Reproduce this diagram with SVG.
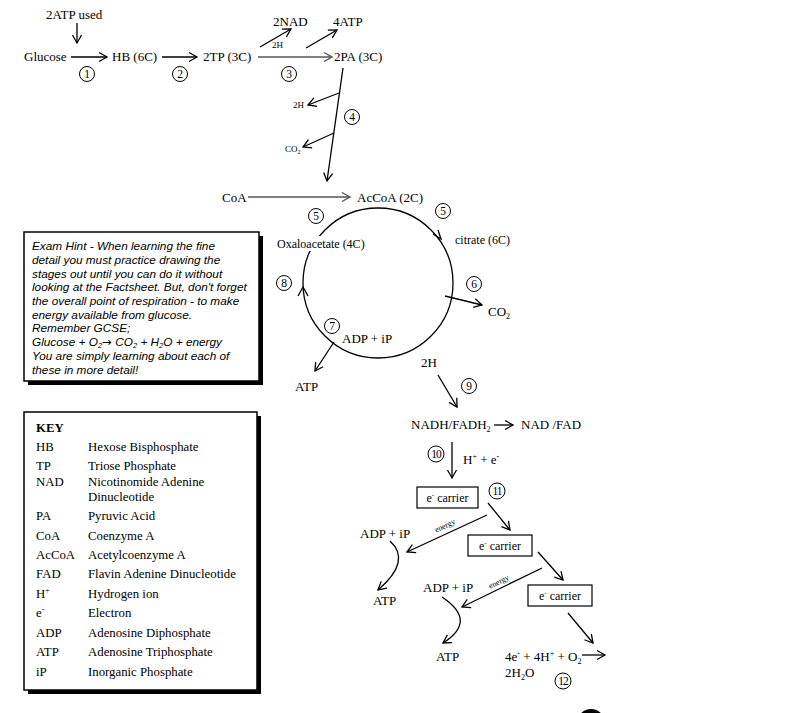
<svg xmlns="http://www.w3.org/2000/svg" width="794" height="713" viewBox="0 0 794 713">
<style>
text{font-family:"Liberation Serif","Times New Roman",serif;fill:#000}
.t{font-size:13px}
.s{font-size:12px}
.xs{font-size:9px}
.en{font-size:8px}
.k{font-size:12.8px}
.h{font-family:"Liberation Sans",Arial,sans-serif;font-style:italic;font-size:11.8px}
.n{font-size:11.5px;text-anchor:middle}
.nc{fill:none;stroke:#000;stroke-width:1}
.ln{fill:none;stroke:#000;stroke-width:1.3}
.gl{fill:none;stroke:#555;stroke-width:1.6}
.a{marker-end:url(#ah)}
.ag{marker-end:url(#ahg)}
</style>
<defs>
<marker id="ah" markerWidth="12" markerHeight="12" refX="10" refY="6" orient="auto" markerUnits="userSpaceOnUse"><path d="M2,1.5 L10,6 L2,10.5" fill="none" stroke="#000" stroke-width="1.3"/></marker>
<marker id="ahg" markerWidth="12" markerHeight="12" refX="10" refY="6" orient="auto" markerUnits="userSpaceOnUse"><path d="M2,1.5 L10,6 L2,10.5" fill="none" stroke="#555" stroke-width="1.4"/></marker>
</defs>
<rect width="794" height="713" fill="#fff"/>

<g id="connectors">
<line class="ln a" x1="77" y1="23" x2="77" y2="43"/>
<line class="ln a" x1="71" y1="57" x2="107" y2="57"/>
<line class="ln a" x1="162" y1="57" x2="197" y2="57"/>
<line class="gl ag" x1="258" y1="57" x2="332" y2="57"/>
<line class="ln a" x1="260" y1="47" x2="291" y2="29"/>
<line class="ln a" x1="306" y1="48" x2="337" y2="30"/>
<line class="ln a" x1="343" y1="68" x2="327" y2="181"/>
<line class="ln a" x1="339" y1="93" x2="308" y2="105"/>
<line class="ln a" x1="334" y1="133" x2="303" y2="147"/>
<line class="gl ag" x1="248" y1="197" x2="350" y2="197"/>
<circle cx="378" cy="283" r="75" fill="none" stroke="#000" stroke-width="1.3"/>
<path d="M433,234 L441,239 L438,230" fill="none" stroke="#000" stroke-width="1.3"/>
<path d="M298,296 L303,287 L308,296" fill="none" stroke="#000" stroke-width="1.3"/>
<line class="ln a" x1="445" y1="296" x2="482" y2="305"/>
<line class="ln a" x1="334" y1="342" x2="315" y2="371"/>
<line class="ln a" x1="438" y1="375" x2="457" y2="407"/>
<line class="ln a" x1="494" y1="425" x2="513" y2="425"/>
<line class="ln a" x1="452" y1="442" x2="452" y2="478"/>
<line class="ln a" x1="488" y1="503" x2="510" y2="530"/>
<line class="ln a" x1="538" y1="552" x2="563" y2="580"/>
<line class="ln a" x1="568" y1="613" x2="593" y2="643"/>
<line class="ln a" x1="487" y1="515" x2="407" y2="552"/>
<line class="ln a" x1="542" y1="568" x2="462" y2="607"/>
<path class="ln a" d="M390,541 Q412,561 378,590"/>
<path class="ln a" d="M442,597 Q478,621 443,643"/>
<line class="ln a" x1="582" y1="655" x2="605" y2="655"/>
</g>

<g id="glycolysis">
<text class="t" x="46" y="19">2ATP used</text>
<text class="t" x="24" y="61">Glucose</text>
<text class="t" x="112" y="61">HB (6C)</text>
<text class="t" x="203" y="61">2TP (3C)</text>
<text class="t" x="334" y="61">2PA (3C)</text>
<text class="t" x="273" y="26">2NAD</text>
<text class="t" x="333" y="26">4ATP</text>
<text class="xs" x="272" y="48">2H</text>
</g>

<g id="link">
<text class="xs" x="293" y="108">2H</text>
<text class="xs" x="285" y="152">CO<tspan font-size="6" dy="2">2</tspan></text>
<text class="t" x="222" y="202">CoA</text>
<text class="t" x="357" y="202">AcCoA (2C)</text>
</g>

<g id="krebs">
<rect x="276" y="236" width="96" height="15" fill="#fff"/>
<text class="s" x="277" y="248">Oxaloacetate (4C)</text>
<text class="s" x="455" y="244">citrate (6C)</text>
<text class="t" x="488" y="316">CO<tspan font-size="8" dy="3">2</tspan></text>
<rect x="340" y="331" width="54" height="15" fill="#fff"/>
<text class="t" x="342" y="343">ADP + iP</text>
<text class="t" x="295" y="391">ATP</text>
<text class="t" x="421" y="367">2H</text>
</g>

<g id="etc">
<text class="t" x="411" y="429">NADH/FADH<tspan font-size="8" dy="3">2</tspan></text>
<text class="t" x="521" y="429">NAD /FAD</text>
<text class="t" x="463" y="464">H<tspan font-size="8" dy="-5">+</tspan><tspan dy="5"> + e</tspan><tspan font-size="8" dy="-5">-</tspan></text>
</g>

<g id="carrier1">
<rect x="417" y="487" width="61" height="21" fill="#fff" stroke="#000" stroke-width="1.2"/>
<text class="s" x="447.5" y="502" text-anchor="middle">e<tspan font-size="7" dy="-5">-</tspan><tspan dy="5"> carrier</tspan></text>
</g>
<g id="carrier2">
<rect x="468" y="535" width="64" height="21" fill="#fff" stroke="#000" stroke-width="1.2"/>
<text class="s" x="500" y="550" text-anchor="middle">e<tspan font-size="7" dy="-5">-</tspan><tspan dy="5"> carrier</tspan></text>
</g>
<g id="carrier3">
<rect x="528" y="585" width="64" height="21" fill="#fff" stroke="#000" stroke-width="1.2"/>
<text class="s" x="560" y="600" text-anchor="middle">e<tspan font-size="7" dy="-5">-</tspan><tspan dy="5"> carrier</tspan></text>
</g>

<g id="atp1">
<text class="t" x="360" y="538">ADP + iP</text>
<text class="t" x="373" y="605">ATP</text>
<text class="en" x="0" y="0" text-anchor="middle" transform="translate(446,528) rotate(-25)">energy</text>
</g>
<g id="atp2">
<text class="t" x="423" y="592">ADP + iP</text>
<text class="t" x="436" y="661">ATP</text>
<text class="en" x="0" y="0" text-anchor="middle" transform="translate(500,584) rotate(-26)">energy</text>
</g>
<g id="water">
<text class="t" x="505" y="661">4e<tspan font-size="8" dy="-5">-</tspan><tspan dy="5"> + 4H</tspan><tspan font-size="8" dy="-5">+</tspan><tspan dy="5"> + O</tspan><tspan font-size="8" dy="3">2</tspan></text>
<text class="t" x="505" y="677">2H<tspan font-size="8" dy="3">2</tspan><tspan dy="-3">O</tspan></text>
</g>

<g id="numbers">
<circle class="nc" cx="87" cy="74" r="7.5"/><text class="n" x="87" y="78">1</text>
<circle class="nc" cx="180" cy="74" r="7.5"/><text class="n" x="180" y="78">2</text>
<circle class="nc" cx="289" cy="74" r="7.5"/><text class="n" x="289" y="78">3</text>
<circle class="nc" cx="352" cy="117" r="7.5"/><text class="n" x="352" y="121">4</text>
<circle class="nc" cx="316" cy="216" r="7.5"/><text class="n" x="316" y="220">5</text>
<circle class="nc" cx="443" cy="211" r="7.5"/><text class="n" x="443" y="215">5</text>
<circle class="nc" cx="474" cy="284" r="7.5"/><text class="n" x="474" y="288">6</text>
<circle class="nc" cx="332" cy="326" r="7.5"/><text class="n" x="332" y="330">7</text>
<circle class="nc" cx="284" cy="283" r="7.5"/><text class="n" x="284" y="287">8</text>
<circle class="nc" cx="469" cy="386" r="7.5"/><text class="n" x="469" y="390">9</text>
<circle class="nc" cx="436" cy="454" r="8"/><text class="n" x="436" y="458" letter-spacing="-1">10</text>
<circle class="nc" cx="497" cy="491" r="8"/><text class="n" x="497" y="495" letter-spacing="-1">11</text>
<circle class="nc" cx="563" cy="681" r="8"/><text class="n" x="563" y="685" letter-spacing="-1">12</text>
</g>

<g id="hint">
<rect x="28" y="236" width="235" height="149" fill="#000"/>
<rect x="24" y="232" width="235" height="149" fill="#fff" stroke="#000" stroke-width="1.5"/>
<text class="h" x="32" y="250">Exam Hint - When learning the fine</text>
<text class="h" x="32" y="264">detail you must practice drawing the</text>
<text class="h" x="32" y="278">stages out until you can do it without</text>
<text class="h" x="32" y="291">looking at the Factsheet. But, don't forget</text>
<text class="h" x="32" y="305">the overall point of respiration - to make</text>
<text class="h" x="32" y="319">energy available from glucose.</text>
<text class="h" x="32" y="332">Remember GCSE;</text>
<text class="h" x="32" y="346">Glucose + O<tspan font-size="7.5" dy="2">2</tspan><tspan dy="-2" font-style="normal" font-family="DejaVu Sans, sans-serif">→</tspan><tspan dy="0">  CO</tspan><tspan font-size="7.5" dy="2">2</tspan><tspan dy="-2"> + H</tspan><tspan font-size="7.5" dy="2">2</tspan><tspan dy="-2">O + energy</tspan></text>
<text class="h" x="32" y="360">You are simply learning about each of</text>
<text class="h" x="32" y="374">these in more detail!</text>
</g>

<g id="key">
<rect x="28" y="416" width="233" height="278" fill="#000"/>
<rect x="24" y="412" width="233" height="278" fill="#fff" stroke="#000" stroke-width="1.5"/>
<text class="k" x="36" y="432" font-weight="bold">KEY</text>
<text class="k" x="36" y="451">HB</text><text class="k" x="88" y="451">Hexose Bisphosphate</text>
<text class="k" x="36" y="470">TP</text><text class="k" x="88" y="470">Triose Phosphate</text>
<text class="k" x="36" y="486">NAD</text><text class="k" x="88" y="486">Nicotinomide Adenine</text>
<text class="k" x="88" y="501">Dinucleotide</text>
<text class="k" x="36" y="520">PA</text><text class="k" x="88" y="520">Pyruvic Acid</text>
<text class="k" x="36" y="540">CoA</text><text class="k" x="88" y="540">Coenzyme A</text>
<text class="k" x="36" y="559">AcCoA</text><text class="k" x="88" y="559">Acetylcoenzyme A</text>
<text class="k" x="36" y="578">FAD</text><text class="k" x="88" y="578">Flavin Adenine Dinucleotide</text>
<text class="k" x="36" y="598">H<tspan font-size="8" dy="-5">+</tspan></text><text class="k" x="88" y="598">Hydrogen ion</text>
<text class="k" x="36" y="617">e<tspan font-size="8" dy="-5">-</tspan></text><text class="k" x="88" y="617">Electron</text>
<text class="k" x="36" y="637">ADP</text><text class="k" x="88" y="637">Adenosine Diphosphate</text>
<text class="k" x="36" y="656">ATP</text><text class="k" x="88" y="656">Adenosine Triphosphate</text>
<text class="k" x="36" y="676">iP</text><text class="k" x="88" y="676">Inorganic Phosphate</text>
</g>

<circle cx="591" cy="723" r="14" fill="#000"/>
</svg>
